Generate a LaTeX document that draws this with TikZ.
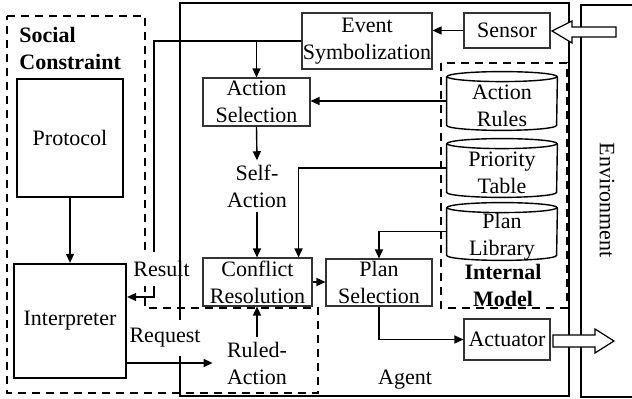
\documentclass[tikz,border=0pt]{standalone}
\usepackage{fontspec}
\setmainfont{Liberation Serif}
\usetikzlibrary{arrows.meta,calc}
\newcommand\cylout[1]{%
  \draw[cylline] ($(#1.north west)+(0,-5)$) -- ($(#1.south west)+(0,5)$)
    arc[start angle=180,end angle=360,x radius=27.5pt,y radius=2.5pt]
    -- ($(#1.north east)+(0,-5)$);
  \draw[cylline] ($(#1.north)+(0,-5)$) ellipse[x radius=27.5pt,y radius=2.5pt];}
\begin{document}
\begin{tikzpicture}[x=0.5pt,y=0.5pt,font=\fontsize{11}{13.5}\selectfont]
\tikzset{
  thinbox/.style={draw=black!80,line width=0.55pt,align=center,inner sep=0pt},
  thickbox/.style={draw,line width=1.1pt,align=center,inner sep=0pt},
  cylnode/.style={draw=none,inner sep=0pt,minimum width=55pt,minimum height=29pt},
  cylline/.style={draw=black,line width=0.7pt},
  lbl/.style={align=center,inner sep=2pt},
  arr/.style={-{Triangle[length=4.5pt,width=4pt]},line width=0.7pt},
  plainline/.style={line width=0.7pt},
  dashbox/.style={line width=1pt,dash pattern=on 4pt off 3pt},
  hollow/.style={draw,line width=0.6pt,fill=white}
}
\useasboundingbox (0,0) rectangle (632,-399);

% nodes
\node[thinbox,minimum width=65pt,minimum height=28pt] (event) at (367,-41) {Event\\Symbolization};
\node[thinbox,minimum width=43pt,minimum height=17.5pt] (sensor) at (507,-30.5) {Sensor};
\node[thinbox,minimum width=53.5pt,minimum height=24pt] (actsel) at (256.5,-102) {Action\\Selection};
\node[thinbox,minimum width=54.5pt,minimum height=24pt] (conflict) at (257.5,-282) {Conflict\\Resolution};
\node[thinbox,minimum width=53pt,minimum height=23.5pt] (plansel) at (379,-282.5) {Plan\\Selection};
\node[thinbox,minimum width=43pt,minimum height=20.5pt] (actuator) at (507,-339.5) {Actuator};
\node[thickbox,minimum width=53pt,minimum height=59pt] (protocol) at (70,-138) {Protocol};
\node[thickbox,minimum width=56pt,minimum height=57pt] (interp) at (70,-321) {Interpreter};

\node[cylnode,label={[align=center,yshift=-2.5pt]center:{Action\\Rules}}] (ar) at (502,-101) {};
\node[cylnode,label={[align=center,yshift=-2.5pt]center:{Priority\\Table}}] (pt) at (502,-168) {};
\node[cylnode,minimum height=28.5pt,label={[align=center,yshift=-2.5pt]center:{Plan\\Library}}] (pl) at (502,-231.5) {};
\cylout{ar}
\cylout{pt}
\cylout{pl}

\node[lbl] (self) at (257,-186) {Self-\\Action};
\node[lbl,minimum width=44pt] (ruled) at (257,-363) {Ruled-\\Action};
\node[lbl] (agentlbl) at (405,-380) {Agent};
\node[lbl,font=\fontsize{11}{13.5}\selectfont\bfseries] (iml) at (503,-285) {Internal\\Model};
\node[align=left,anchor=west,inner sep=2pt,font=\fontsize{11}{13.5}\selectfont\bfseries] (scl) at (15,-48) {Social\\Constraint};
\node[rotate=-90,inner sep=0pt] (env) at (607,-200) {Environment};

% connectors
\coordinate (bendA) at (154,-41);
\coordinate (bendB) at (154,-297);
\draw[arr] (sensor.west) -- (sensor.west -| event.east);
\draw[arr] (event.west) -- (bendA) -- (bendB) -- (bendB -| interp.east);
\draw[arr] (actsel.north |- event.west) -- (actsel.north);
\draw[arr] (ar.west) -- (ar.west -| actsel.east);
\draw[arr] (actsel.south) -- (self.north);
\draw[arr] (self.south) -- (self.south |- conflict.north);
\draw[arr] (pt.west) -| ($(conflict.north east)+(-14,0)$);
\draw[arr] (conflict.east) -- (conflict.east -| plansel.west);
\draw[arr] (pl.west) -| (plansel.north);
\draw[arr] (plansel.south) |- (actuator.west);
\draw[arr] (protocol.south) -- (interp.north);
\draw[arr] (interp.east |- ruled.west) -- (ruled.west);
\draw[arr] (ruled.north) -- (ruled.north |- conflict.south);

% social constraint region
\draw[dashbox] (7,-16) -- (145,-16) -- (145,-308) -- (318,-308) -- (318,-393) -- (7,-393) -- cycle;
\node[lbl,fill=white,inner ysep=4.5pt,inner xsep=1pt] (result) at (161.5,-269) {Result};

% agent and environment
\draw[line width=1.2pt] (180,-3) rectangle (569,-396);
\draw[line width=1.2pt] (581,-5) rectangle (640,-397);
\draw[dashbox] (441,-63) rectangle (567,-308);
\node[lbl,fill=white,inner ysep=4pt,inner xsep=1pt] (request) at (165,-338) {Request};

% hollow arrows
\draw[hollow] (552,-31) -- (572,-21) -- (572,-27) -- (616,-27) -- (616,-37) -- (572,-37) -- (572,-43) -- cycle;
\draw[hollow] (553,-335) -- (595,-335) -- (595,-329) -- (614,-341) -- (595,-353) -- (595,-347) -- (553,-347) -- cycle;
\end{tikzpicture}
\end{document}
